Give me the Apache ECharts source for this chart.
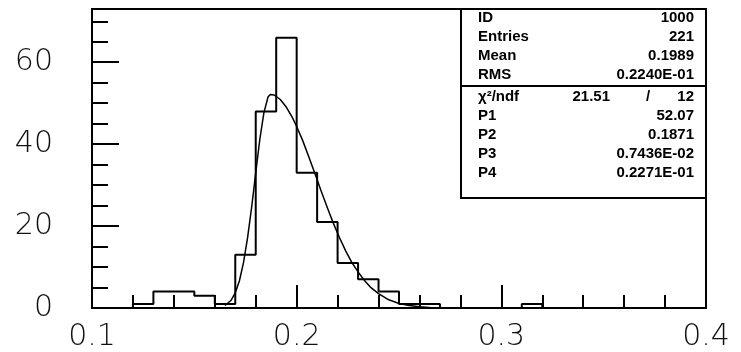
<!DOCTYPE html>
<html>
<head>
<meta charset="utf-8">
<script src="https://cdn.jsdelivr.net/npm/echarts@6/dist/echarts.min.js"></script>
<style>
  html, body { margin: 0; padding: 0; background: #fff; }
  #chart { width: 741px; height: 352px; }
</style>
</head>
<body>
<div id="chart"></div>
<script>
// histogram bins (low edge, width 0.01) and counts
const binLow = [0.10, 0.11, 0.12, 0.13, 0.14, 0.15, 0.16, 0.17, 0.18, 0.19,
                0.20, 0.21, 0.22, 0.23, 0.24, 0.25, 0.26, 0.27, 0.28, 0.29,
                0.30, 0.31, 0.32, 0.33, 0.34, 0.35, 0.36, 0.37, 0.38, 0.39];
const counts = [0, 0, 1, 4, 4, 3, 1, 13, 48, 66,
                33, 21, 11, 7, 4, 1, 1, 0, 0, 0,
                0, 1, 0, 0, 0, 0, 0, 0, 0, 0];
const histEnd = 0.40;

// fitted curve
const fitX = [0.165, 0.168, 0.170, 0.172, 0.174, 0.176, 0.178, 0.180, 0.182, 0.184,
              0.186, 0.1871, 0.189, 0.192, 0.195, 0.198, 0.200, 0.203, 0.206, 0.209,
              0.212, 0.215, 0.218, 0.221, 0.224, 0.227, 0.230, 0.233, 0.236, 0.240,
              0.245, 0.250, 0.255, 0.260, 0.265];
const fitY = [0.6, 1.9, 3.7, 6.6, 11.0, 17.1, 24.6, 33.0, 41.2, 47.7,
              51.5, 52.1, 52.0, 50.9, 49.0, 46.4, 44.3, 40.8, 36.8, 32.7,
              28.5, 24.5, 20.6, 17.1, 13.9, 11.1, 8.8, 6.8, 5.1, 3.5,
              2.0, 1.1, 0.6, 0.3, 0.15];

// statistics box
const statNames = ['ID', 'Entries', 'Mean', 'RMS'];
const statValues = ['1000', '221', '0.1989', '0.2240E-01'];
const chi2Label = 'χ²/ndf';
const chi2Value = '21.51';
const ndfValue = '12';
const parNames = ['P1', 'P2', 'P3', 'P4'];
const parValues = ['52.07', '0.1871', '0.7436E-02', '0.2271E-01'];

const histData = binLow.map((x, i) => [x, counts[i]]);
histData.push([histEnd, 0]);
const fitData = fitX.map((x, i) => [x, fitY[i]]);

const GRID = { left: 92, top: 9, right: 35, bottom: 41 };
const BOX = { x: 461, y: 9, w: 245, h: 189, split: 86 };
const ROW = 19;
const boxFont = 'bold 15px "Liberation Sans"';
const axisFont = { color: '#111', fontFamily: 'DejaVu Sans', fontSize: 30, fontWeight: 200 };

const chart = echarts.init(document.getElementById('chart'), null, { renderer: 'canvas' });

const tickLine = { color: '#000', width: 2 };
const graphics = [
  { type: 'rect', shape: { x: BOX.x, y: BOX.y, width: BOX.w, height: BOX.h },
    style: { fill: '#fff', stroke: '#000', lineWidth: 2 }, z: 100 },
  { type: 'line', shape: { x1: BOX.x, y1: BOX.split, x2: BOX.x + BOX.w, y2: BOX.split },
    style: { stroke: '#000', lineWidth: 2 }, z: 101 },
];
const addText = (x, y, text, align) => {
  graphics.push({ type: 'text', x, y, z: 102,
    style: { text, font: boxFont, fill: '#000', align, verticalAlign: 'middle' } });
};
const addRow = (y, name, value) => {
  addText(BOX.x + 17, y, name, 'left');
  addText(BOX.x + BOX.w - 12, y, value, 'right');
};
statNames.forEach((n, i) => addRow(18 + i * ROW, n, statValues[i]));
addRow(97, chi2Label, ndfValue);
addText(610, 97, chi2Value, 'right');
addText(648, 97, '/', 'center');
parNames.forEach((n, i) => addRow(116 + i * ROW, n, parValues[i]));

chart.setOption({
  animation: false,
  backgroundColor: '#fff',
  grid: { ...GRID, show: true, borderColor: '#000', borderWidth: 2, backgroundColor: 'transparent' },
  xAxis: [
    {
      type: 'value', min: 0.1, max: 0.4, interval: 0.1,
      axisLine: { show: false },
      axisTick: { inside: true, length: 23, lineStyle: tickLine },
      axisLabel: { margin: 14, ...axisFont, formatter: (v) => v.toFixed(1) },
      splitLine: { show: false },
    },
    {
      type: 'value', min: 0.1, max: 0.4, interval: 0.02, position: 'bottom', offset: 0,
      axisLine: { show: false },
      axisTick: { inside: true, length: 13, lineStyle: tickLine },
      axisLabel: { show: false },
      splitLine: { show: false },
    },
  ],
  yAxis: [
    {
      type: 'value', min: 0, max: 73, interval: 20, position: 'left', offset: 0,
      axisLine: { show: false },
      axisTick: { inside: true, length: 27, lineStyle: tickLine },
      axisLabel: { margin: 39, ...axisFont, showMaxLabel: false,
        formatter: (v) => (v % 20 === 0 ? String(v) : '') },
      splitLine: { show: false },
    },
    {
      type: 'value', min: 0, max: 73, interval: 5, position: 'left', offset: 0,
      axisLine: { show: false },
      axisTick: { inside: true, length: 16, lineStyle: tickLine },
      axisLabel: { show: false },
      splitLine: { show: false },
    },
  ],
  series: [
    {
      name: 'hist', type: 'line', step: 'end', xAxisIndex: 0, yAxisIndex: 0,
      data: histData, symbol: 'none',
      lineStyle: { color: '#000', width: 2 }, z: 5,
    },
    {
      name: 'fit', type: 'line', xAxisIndex: 0, yAxisIndex: 0,
      data: fitData, symbol: 'none', smooth: false,
      lineStyle: { color: '#000', width: 1.5 }, z: 6,
    },
  ],
  graphic: graphics,
});
</script>
</body>
</html>
